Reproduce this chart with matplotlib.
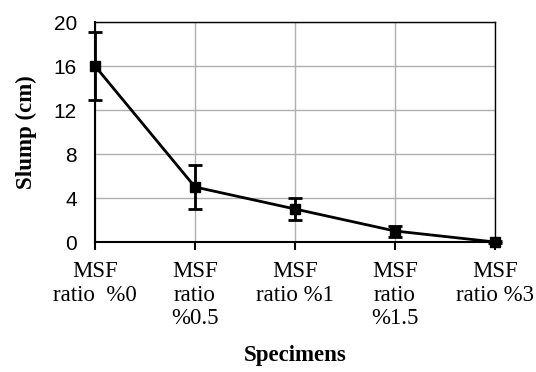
import matplotlib
matplotlib.use("Agg")
import matplotlib.pyplot as plt

specimens = ["MSF\nratio  %0", "MSF\nratio\n%0.5", "MSF\nratio %1", "MSF\nratio\n%1.5", "MSF\nratio %3"]
slump = [16, 5, 3, 1, 0]
slump_err = [3.1, 2, 1, 0.5, 0.1]

fig = plt.figure(figsize=(5.36, 3.72), dpi=100)
ax = fig.add_axes([95 / 536, 1 - 242 / 372, 400 / 536, 220 / 372])

x = list(range(len(slump)))
ax.errorbar(x, slump, yerr=slump_err, color="black", lw=2, marker="s", ms=7,
            capsize=5, elinewidth=2, capthick=2, clip_on=False, zorder=3)

ax.set_xlim(0, len(slump) - 1)
ax.set_ylim(0, 20)
ax.set_yticks([0, 4, 8, 12, 16, 20])
ax.set_xticks(x)
ax.set_xticklabels(specimens, family="Liberation Serif", fontsize=16.5, linespacing=1.13)
for lbl in ax.get_yticklabels():
    lbl.set_family("Liberation Sans")
    lbl.set_fontsize(15)

ax.grid(True, color="#b0b0b0", lw=1)
ax.set_axisbelow(True)
for side in ["top", "right"]:
    ax.spines[side].set_color("black")
    ax.spines[side].set_linewidth(1)
ax.spines["left"].set_linewidth(1.5)
ax.spines["bottom"].set_linewidth(1.5)
ax.tick_params(axis="y", length=0, pad=13)
ax.tick_params(axis="x", direction="out", length=6, width=1.5, pad=8)

ax.set_ylabel("Slump (cm)", family="Liberation Serif", fontweight="bold", fontsize=16.5, labelpad=12)
ax.set_xlabel("Specimens", family="Liberation Serif", fontweight="bold", fontsize=16.5, labelpad=12)

fig.savefig("out.png", dpi=100)
